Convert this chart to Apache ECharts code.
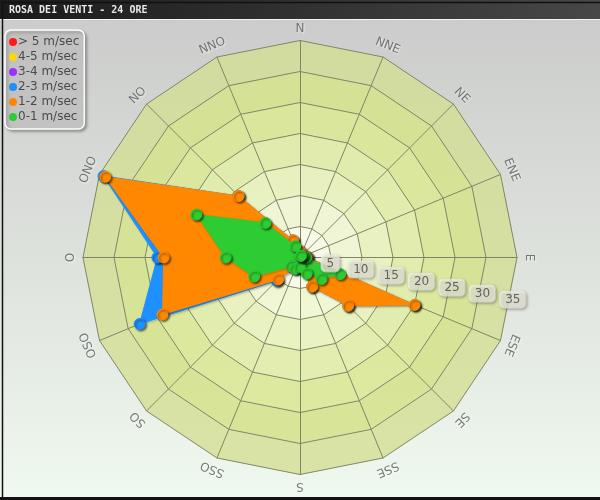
<!DOCTYPE html>
<html>
<head>
<meta charset="utf-8">
<script src="https://cdn.jsdelivr.net/npm/echarts@6/dist/echarts.min.js"></script>
<style>
html,body{margin:0;padding:0;}
#wrap{position:relative;width:600px;height:500px;overflow:hidden;
background:linear-gradient(to bottom,#c9c9c9 0px,#cbcccb 20px,#dde1dc 250px,#eef7ee 480px,#f0faf0 500px);}
#chart{position:absolute;left:0;top:0;width:600px;height:500px;}
</style>
</head>
<body>
<div id="wrap"><div id="chart"></div></div>
<script>
// Compass directions, clockwise from North
const directions = ['N','NNE','NE','ENE','E','ESE','SE','SSE','S','SSO','SO','OSO','O','ONO','NO','NNO'];
// Speed classes (legend order)
const classNames = ['> 5 m/sec','4-5 m/sec','3-4 m/sec','2-3 m/sec','1-2 m/sec','0-1 m/sec'];
const classColors = ['#ff1a1a','#ffd700','#9b30ff','#1e90ff','#ff8800','#2ecc33'];
// Values per direction (clockwise from N)
const over5   = [0,0,0,0,0,0,0,0,0,0,0,0,0,0,0,0];
const s4to5   = [0,0,0,0,0,0,0,0,0,0,0,0,0,0,0,0];
const s3to4   = [0,0,0,0,0,0,0,0,0,0,0,0,0,0,0,0];
const s2to3   = [1.0,0.5,0.5,0.8,1.2,20.0,11.0,5.1,1.5,1.8,5.3,28.0,23.0,34.3,14.0,3.0];
const s1to2   = [1.0,0.5,0.5,0.8,1.2,20.0,11.0,5.1,1.5,1.8,5.0,24.0,22.0,34.0,14.0,3.0];
const s0to1   = [0.5,0.3,0.3,0.5,1.0,7.0,4.9,2.8,1.5,2.0,2.0,8.0,12.0,18.1,7.9,2.0];
// Radial tick labels
const tickValues = [5,10,15,20,25,30,35];
const maxValue = 35;

const seriesValues = [over5, s4to5, s3to4, s2to3, s1to2, s0to1];

// ECharts radar lays indicators counter-clockwise: reorder N, NNO, NO, ... NNE
const radarOrder = [0].concat(directions.slice(1).map((d,i)=>directions.length-1-i));
const indicator = radarOrder.map(i => ({name: directions[i], max: maxValue}));

const CX = 300, CY = 257.5, R = 217;

const radarSeries = classNames.map((name, k) => ({
  type: 'radar',
  name: name,
  radarIndex: 0,
  symbol: 'circle',
  symbolSize: 11,
  z: 3 + k,
  itemStyle: {color: classColors[k], borderColor: classColors[k], borderWidth: 1,
    shadowColor: 'rgba(0,0,0,0.55)', shadowBlur: 2, shadowOffsetX: 1.5, shadowOffsetY: 1.5},
  lineStyle: {color: classColors[k], width: 1, opacity: 1,
    shadowColor: 'rgba(0,0,0,0.35)', shadowBlur: 2, shadowOffsetX: 1, shadowOffsetY: 1},
  areaStyle: {color: classColors[k], opacity: 1},
  emphasis: {disabled: true},
  data: [{name: name, value: radarOrder.map(i => seriesValues[k][i])}]
}));

const ringColors = [
  'rgba(249,251,232,0.95)',
  'rgba(241,247,212,0.93)',
  'rgba(233,242,190,0.92)',
  'rgba(225,237,168,0.9)',
  'rgba(218,232,150,0.9)',
  'rgba(213,227,140,0.88)',
  'rgba(211,222,148,0.8)'
];

const chart = echarts.init(document.getElementById('chart'), null, {renderer: 'canvas'});
chart.setOption({
  animation: false,
  backgroundColor: 'transparent',
  graphic: [
    {type: 'rect', left: 0, top: 0, shape: {width: 600, height: 19}, z: 10,
     style: {fill: new echarts.graphic.LinearGradient(0,0,1,0,[{offset:0,color:'#1b1b1b'},{offset:1,color:'#474747'}])}},
    {type: 'rect', left: 0, top: 19, shape: {width: 600, height: 1}, z: 10, style: {fill: '#f4f4f4'}},
    {type: 'rect', left: 0, top: 0, shape: {width: 599, height: 498}, z: 11, silent: true,
     style: {fill: 'none', stroke: '#111', lineWidth: 1.5}},
    {type: 'rect', left: 0, top: 497, shape: {width: 600, height: 3}, z: 11, style: {fill: '#111'}}
  ],
  title: {
    text: 'ROSA DEI VENTI - 24 ORE',
    left: 9, top: 5, padding: 0, z: 12,
    textStyle: {color: '#e8e8e8', fontSize: 10, fontWeight: 'bold', fontFamily: 'DejaVu Sans Mono'}
  },
  legend: {
    orient: 'vertical', left: 5, top: 30,
    data: classNames,
    icon: 'circle', itemWidth: 6, itemHeight: 6, itemGap: 1,
    backgroundColor: 'rgba(196,196,196,0.92)', borderColor: '#ffffff', borderWidth: 1.5, borderRadius: 6,
    padding: [5, 5, 5, 4],
    shadowColor: 'rgba(0,0,0,0.3)', shadowBlur: 3, shadowOffsetX: 2, shadowOffsetY: 2,
    textStyle: {color: '#4a4a4a', fontSize: 12, fontFamily: 'DejaVu Sans', padding: [0,0,0,-3], lineHeight: 14},
    selectedMode: false
  },
  radar: {
    center: [CX, CY], radius: R, startAngle: 90,
    shape: 'polygon', splitNumber: 7,
    indicator: indicator,
    axisName: {show: false},
    axisLine: {lineStyle: {color: '#7f8566', width: 1}},
    splitLine: {lineStyle: {color: '#7f8566', width: 1}},
    splitArea: {show: true, areaStyle: {color: ringColors}}
  },
  polar: [
    {center: [CX, CY], radius: R + 12},
    {center: [CX, CY], radius: R}
  ],
  angleAxis: [
    {polarIndex: 0, type: 'category', data: directions, startAngle: 90, boundaryGap: false,
     clockwise: true, show: false},
    {polarIndex: 1, type: 'value', min: 0, max: 360, startAngle: -11.25, clockwise: true, show: false}
  ],
  radiusAxis: [
    {polarIndex: 0, type: 'value', min: 0, max: 1, show: false},
    {polarIndex: 1, type: 'value', min: 0, max: maxValue, show: false}
  ],
  series: radarSeries.concat([
    {
      type: 'scatter', coordinateSystem: 'polar', polarIndex: 0,
      symbolSize: 0, silent: true, z: 20,
      data: directions.map((d, i) => ({
        value: [1, d],
        label: {rotate: -i * 22.5}
      })),
      label: {
        show: true, position: 'inside',
        formatter: p => directions[p.dataIndex],
        color: '#5a5a5a', fontSize: 12, fontFamily: 'DejaVu Sans',
        textShadowColor: 'rgba(255,255,255,0.9)', textShadowBlur: 2, textShadowOffsetX: 1, textShadowOffsetY: 1
      }
    },
    {
      type: 'scatter', coordinateSystem: 'polar', polarIndex: 1,
      symbolSize: 0, silent: true, z: 21,
      data: tickValues.map(v => [v, 0]),
      label: {
        show: true, position: 'inside',
        formatter: p => String(tickValues[p.dataIndex]),
        color: '#444', fontSize: 12, fontFamily: 'DejaVu Sans',
        backgroundColor: 'rgba(234,234,218,0.95)', borderColor: 'rgba(255,255,255,0.85)', borderWidth: 1,
        borderRadius: 4, padding: [2, 5],
        shadowColor: 'rgba(0,0,0,0.35)', shadowBlur: 3, shadowOffsetX: 1, shadowOffsetY: 1
      }
    }
  ])
});
</script>
</body>
</html>
